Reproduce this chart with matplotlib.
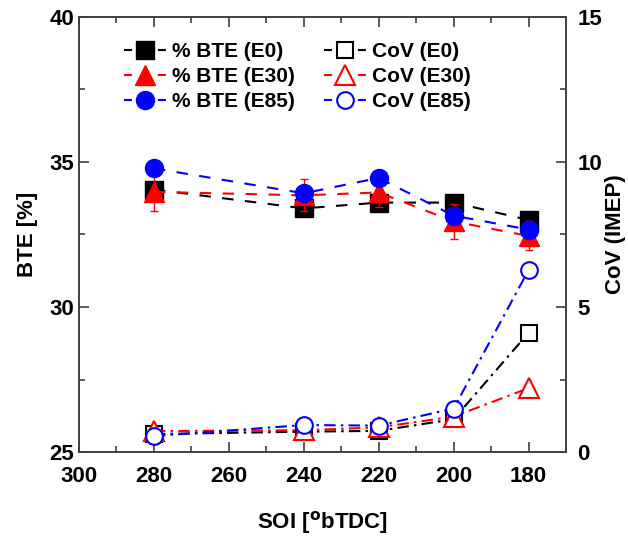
import matplotlib
matplotlib.use("Agg")
import matplotlib.pyplot as plt
from matplotlib.lines import Line2D
from matplotlib.ticker import MultipleLocator

plt.rcParams['font.family'] = ['Liberation Sans', 'DejaVu Sans']
plt.rcParams['font.weight'] = 'bold'

# Start of injection [deg bTDC]
soi = [280, 240, 220, 200, 180]

# Brake thermal efficiency [%]
bte_e0 = [34.05, 33.4, 33.6, 33.6, 33.0]
bte_e30 = [33.97, 33.85, 33.95, 32.95, 32.45]
bte_e85 = [34.78, 33.92, 34.45, 33.15, 32.67]
bte_e0_err = [0.2, 0.2, 0.25, 0.2, 0.2]
bte_e30_err = [0.65, 0.55, 0.5, 0.6, 0.5]

# Coefficient of variation of IMEP [%]
cov_e0 = [0.62, 0.7, 0.73, 1.13, 4.11]
cov_e30 = [0.72, 0.75, 0.85, 1.22, 2.2]
cov_e85 = [0.55, 0.93, 0.91, 1.5, 6.27]

labels = ['% BTE (E0)', '% BTE (E30)', '% BTE (E85)',
          'CoV (E0)', 'CoV (E30)', 'CoV (E85)']

fig = plt.figure(figsize=(6.28, 5.39), dpi=100)
ax = fig.add_axes([0.1258, 0.1614, 0.7755, 0.8071])
ax2 = ax.twinx()

dash = (5.5, 5.5)
dashdot = (5.5, 2.5, 1.2, 2.5)
lw = 1.5

styles = [
    dict(color='black', marker='s', ms=12.5, mfc='black', mec='black'),
    dict(color='red', marker='^', ms=15, mfc='red', mec='red'),
    dict(color='blue', marker='o', ms=13, mfc='blue', mec='blue'),
    dict(color='black', marker='s', ms=11.5, mfc='white', mec='black', mew=1.5),
    dict(color='red', marker='^', ms=14, mfc='white', mec='red', mew=1.5),
    dict(color='blue', marker='o', ms=12, mfc='white', mec='blue', mew=1.5),
]

ax.plot(soi, bte_e0, lw=lw, dashes=dash, zorder=3, **styles[0])
ax.errorbar(soi, bte_e0, yerr=bte_e0_err, fmt='none', ecolor='black', elinewidth=1,
            capsize=3, capthick=1, zorder=3.5)
ax.plot(soi, bte_e30, lw=lw, dashes=dash, zorder=4, **styles[1])
ax.errorbar(soi, bte_e30, yerr=bte_e30_err, fmt='none', ecolor='red', elinewidth=1,
            capsize=3, capthick=1, zorder=4.5)
ax.plot(soi, bte_e85, lw=lw, dashes=dash, zorder=5, **styles[2])

ax2.plot(soi, cov_e0, lw=lw, dashes=dashdot, zorder=3, **styles[3])
ax2.plot(soi, cov_e30, lw=lw, dashes=dashdot, zorder=4, **styles[4])
ax2.plot(soi, cov_e85, lw=lw, dashes=dashdot, zorder=5, **styles[5])

ax.set_xlim(300, 170)
ax.set_ylim(25, 40)
ax2.set_ylim(0, 15)

ax.xaxis.set_major_locator(MultipleLocator(20))
ax.xaxis.set_minor_locator(MultipleLocator(10))
ax.yaxis.set_major_locator(MultipleLocator(5))
ax.yaxis.set_minor_locator(MultipleLocator(2.5))
ax2.yaxis.set_major_locator(MultipleLocator(5))
ax2.yaxis.set_minor_locator(MultipleLocator(2.5))

spine_c = '#404040'
for a in (ax, ax2):
    for s in a.spines.values():
        s.set_color(spine_c)
        s.set_linewidth(1.2)

ax.tick_params(axis='both', which='both', direction='in', color=spine_c, width=1.2,
               labelsize=16, top=True)
ax.tick_params(axis='both', which='major', length=7)
ax.tick_params(axis='both', which='minor', length=4)
ax.tick_params(axis='x', which='major', pad=10)
ax.tick_params(axis='y', which='both', right=False)
ax2.tick_params(axis='y', which='both', direction='in', color=spine_c, width=1.2,
                labelsize=16)
ax2.tick_params(axis='y', which='major', length=7, pad=8)
ax2.tick_params(axis='y', which='minor', length=4)

ax.set_xlabel('SOI [$^{\\mathbf{o}}$bTDC]', fontsize=16, fontweight='bold', labelpad=16)
ax.set_ylabel('BTE [%]', fontsize=16, fontweight='bold', labelpad=8)
ax2.set_ylabel('CoV (IMEP)', fontsize=16, fontweight='bold', labelpad=2)

# Legend keys: short solid stubs on both sides of the marker
handles = [Line2D([], [], lw=lw, dashes=(3.8, 12.5), **st) for st in styles]
leg = ax2.legend(handles=handles, labels=labels, loc='upper left',
                 bbox_to_anchor=(0.076, 0.962), ncol=2, frameon=False, fontsize=15,
                 handlelength=2.0, handletextpad=0.3, columnspacing=1.4,
                 labelspacing=0.3, borderaxespad=0)
for t in leg.get_texts():
    t.set_fontweight('bold')

fig.savefig('out.png', dpi=100)
